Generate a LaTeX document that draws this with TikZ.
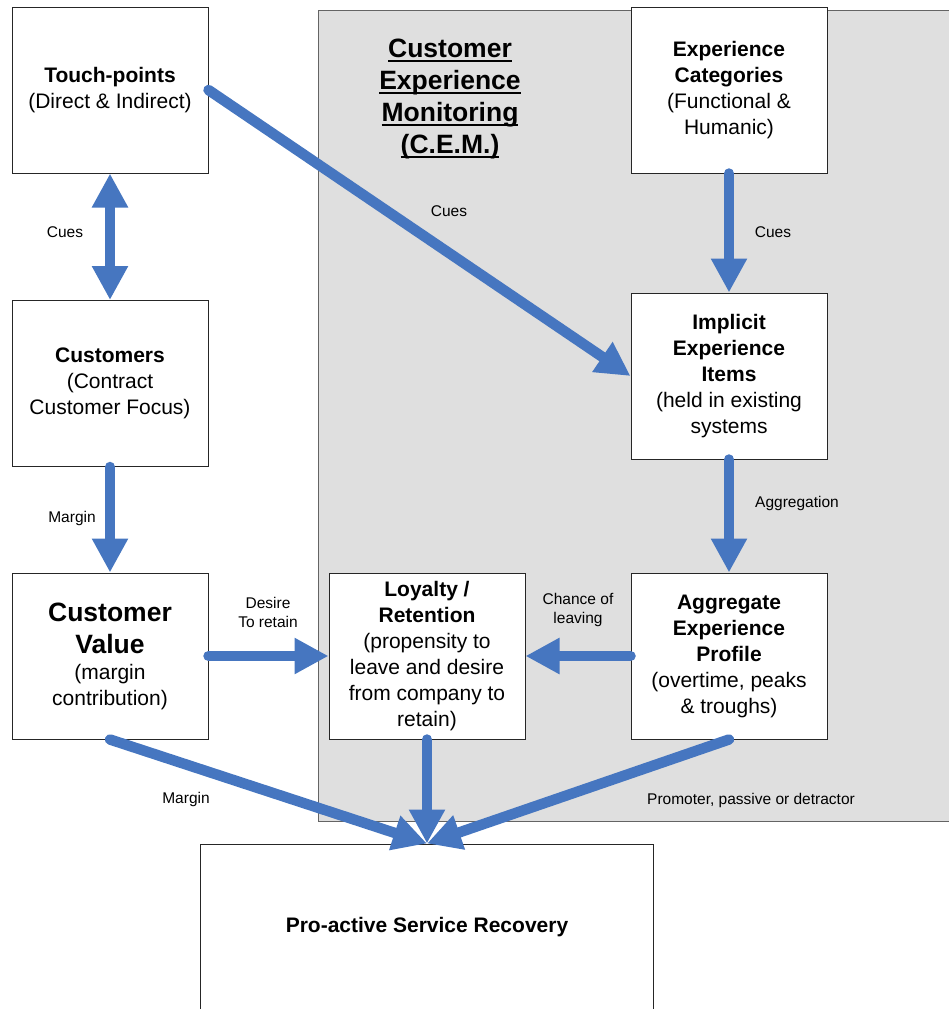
\documentclass[tikz,border=0pt]{standalone}
\usepackage{fontspec}
\setmainfont{Liberation Sans}
\usetikzlibrary{arrows.meta}
\definecolor{flowblue}{RGB}{70,118,192}
\definecolor{panelgray}{RGB}{223,223,223}
\definecolor{paneledge}{RGB}{100,100,100}
% underline at a fixed depth below the baseline
\newcommand\ulword[1]{\setbox0\hbox{#1}\rlap{\rule[-4.8pt]{\wd0}{2pt}}\box0}
\newcommand\bigtitle[1]{{\fontsize{26.5}{32}\selectfont\bfseries #1}}

\begin{document}
\begin{tikzpicture}[x=1pt,y=-1pt,
  box/.style={draw=black!85, line width=1pt, fill=white, minimum width=196pt,
    minimum height=166pt, inner sep=0pt, align=center,
    font=\fontsize{21}{26}\selectfont},
  lbl/.style={align=center, inner sep=0pt, font=\fontsize{15.5}{19}\selectfont},
  >={Triangle[width=34pt,length=34pt]},
  flow/.style={draw=flowblue, fill=flowblue, line width=10.5pt, line cap=round, ->}
]
\useasboundingbox (0,0) rectangle (948,1009);

% monitoring panel
\filldraw[fill=panelgray, draw=paneledge, line width=1pt] (318,10) rectangle (970,821);
\node[align=center, inner sep=0pt, font=\fontsize{26.5}{32}\selectfont\bfseries] (cem) at (450,99)
  {\ulword{Customer}\\\ulword{Experience}\\\ulword{Monitoring}\\\ulword{(C.E.M.)}};

% boxes
\node[box] (tp) at (110,90) {\textbf{Touch-points}\\(Direct \& Indirect)};
\node[box] (cu) at (110,383.5) {\textbf{Customers}\\(Contract\\Customer Focus)};
\node[box] (cv) at (110,656) {\bigtitle{Customer}\\[6pt]\bigtitle{Value}\\(margin\\contribution)};
\node[box] (lo) at (427,656) {\textbf{Loyalty /}\\\textbf{Retention}\\(propensity to\\leave and desire\\from company to\\retain)};
\node[box] (ex) at (729,90) {\textbf{Experience}\\\textbf{Categories}\\(Functional \&\\Humanic)};
\node[box] (im) at (729,376) {\textbf{Implicit}\\\textbf{Experience}\\\textbf{Items}\\(held in existing\\systems};
\node[box] (ag) at (729,656) {\textbf{Aggregate}\\\textbf{Experience}\\\textbf{Profile}\\(overtime, peaks\\\& troughs)};
\node[box, minimum width=453pt] (pr) at (427,927) {\textbf{Pro-active Service Recovery}};

% connector labels
\node[lbl] (l1) at (65,232) {Cues};
\node[lbl] (l2) at (449,211) {Cues};
\node[lbl] (l3) at (773,232) {Cues};
\node[lbl] (l4) at (797,503) {Aggregation};
\node[lbl] (l5) at (72,518) {Margin};
\node[lbl] (l6) at (268,612) {Desire\\To retain};
\node[lbl] (l7) at (578,610) {Chance of\\leaving};
\node[lbl] (l8) at (186,799) {Margin};
\node[lbl] (l9) at (751,800) {Promoter, passive or detractor};

% connectors
\draw[flow, <->] (tp.south) -- (cu.north);
\draw[flow] (tp.east) -- (im.west);
\draw[flow] (ex.south) -- (im.north);
\draw[flow] (im.south) -- (ag.north);
\draw[flow] (cu.south) -- (cv.north);
\draw[flow] (cv.east) -- (lo.west);
\draw[flow] (ag.west) -- (lo.east);
\draw[flow] (cv.south) -- (pr.north);
\draw[flow] (lo.south) -- (pr.north);
\draw[flow] (ag.south) -- (pr.north);
\end{tikzpicture}
\end{document}
